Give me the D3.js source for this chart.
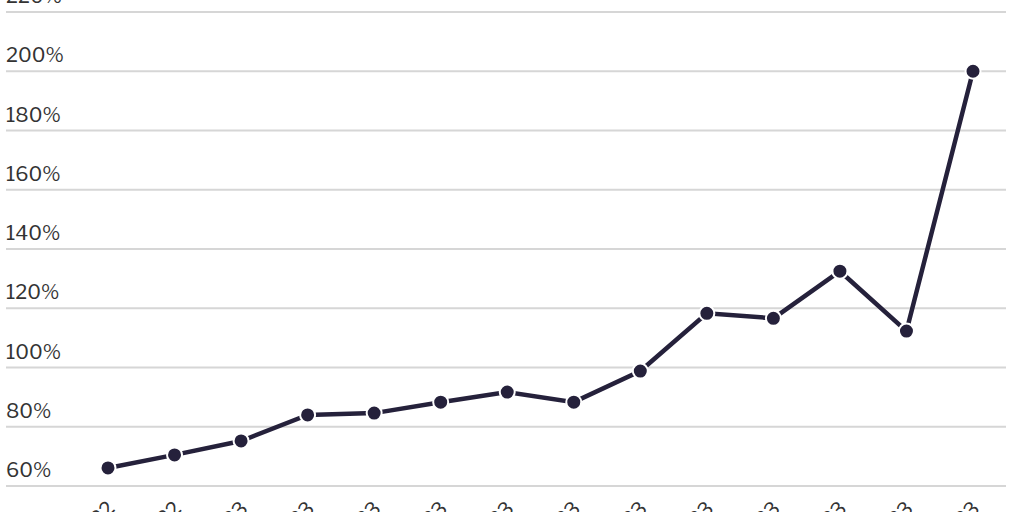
<!DOCTYPE html><html><head><script src="https://cdn.jsdelivr.net/npm/d3@7"></script>
<style>body{margin:0;background:#fff}text{font-family:"Libre Franklin","Noto Sans",sans-serif}</style></head><body><svg width="1024" height="512"></svg><script>
const categories=["Nov 2022","Dec 2022","Jan 2023","Feb 2023","Mar 2023","Apr 2023","May 2023","Jun 2023","Jul 2023","Aug 2023","Sep 2023","Oct 2023","Nov 2023","Dec 2023"];
const values=[66.1,70.5,75.2,84,84.6,88.3,91.7,88.3,98.8,118.3,116.6,132.5,112.3,200];
const yTicks=[60,80,100,120,140,160,180,200,220];
const svg=d3.select("svg");
const x=d3.scalePoint().domain(categories).range([108,973]);
const y=d3.scaleLinear().domain([60,220]).range([486,12]);
const g=svg.append("g");
yTicks.forEach(t=>{
 g.append("line").attr("x1",6).attr("x2",1006).attr("y1",y(t)).attr("y2",y(t)).attr("stroke","#d6d6d6").attr("stroke-width",2);
 g.append("text").attr("x",6).attr("y",y(t)-9).attr("font-size",20).attr("fill","#333").text(t+"%");
});
categories.forEach(c=>{
 svg.append("text").attr("transform",`translate(${x(c)-2},${500}) rotate(-45)`).attr("text-anchor","end").attr("dy","0.7em").attr("font-size",20).attr("fill","#333").text(c);
});
const line=d3.line().x((d,i)=>x(categories[i])).y(d=>y(d));
svg.append("path").datum(values).attr("d",line).attr("fill","none").attr("stroke","#25213b").attr("stroke-width",4.5);
svg.selectAll("circle").data(values).join("circle").attr("cx",(d,i)=>x(categories[i])).attr("cy",d=>y(d)).attr("r",7.5).attr("fill","#25213b").attr("stroke","#fff").attr("stroke-width",2);
</script></body></html>
